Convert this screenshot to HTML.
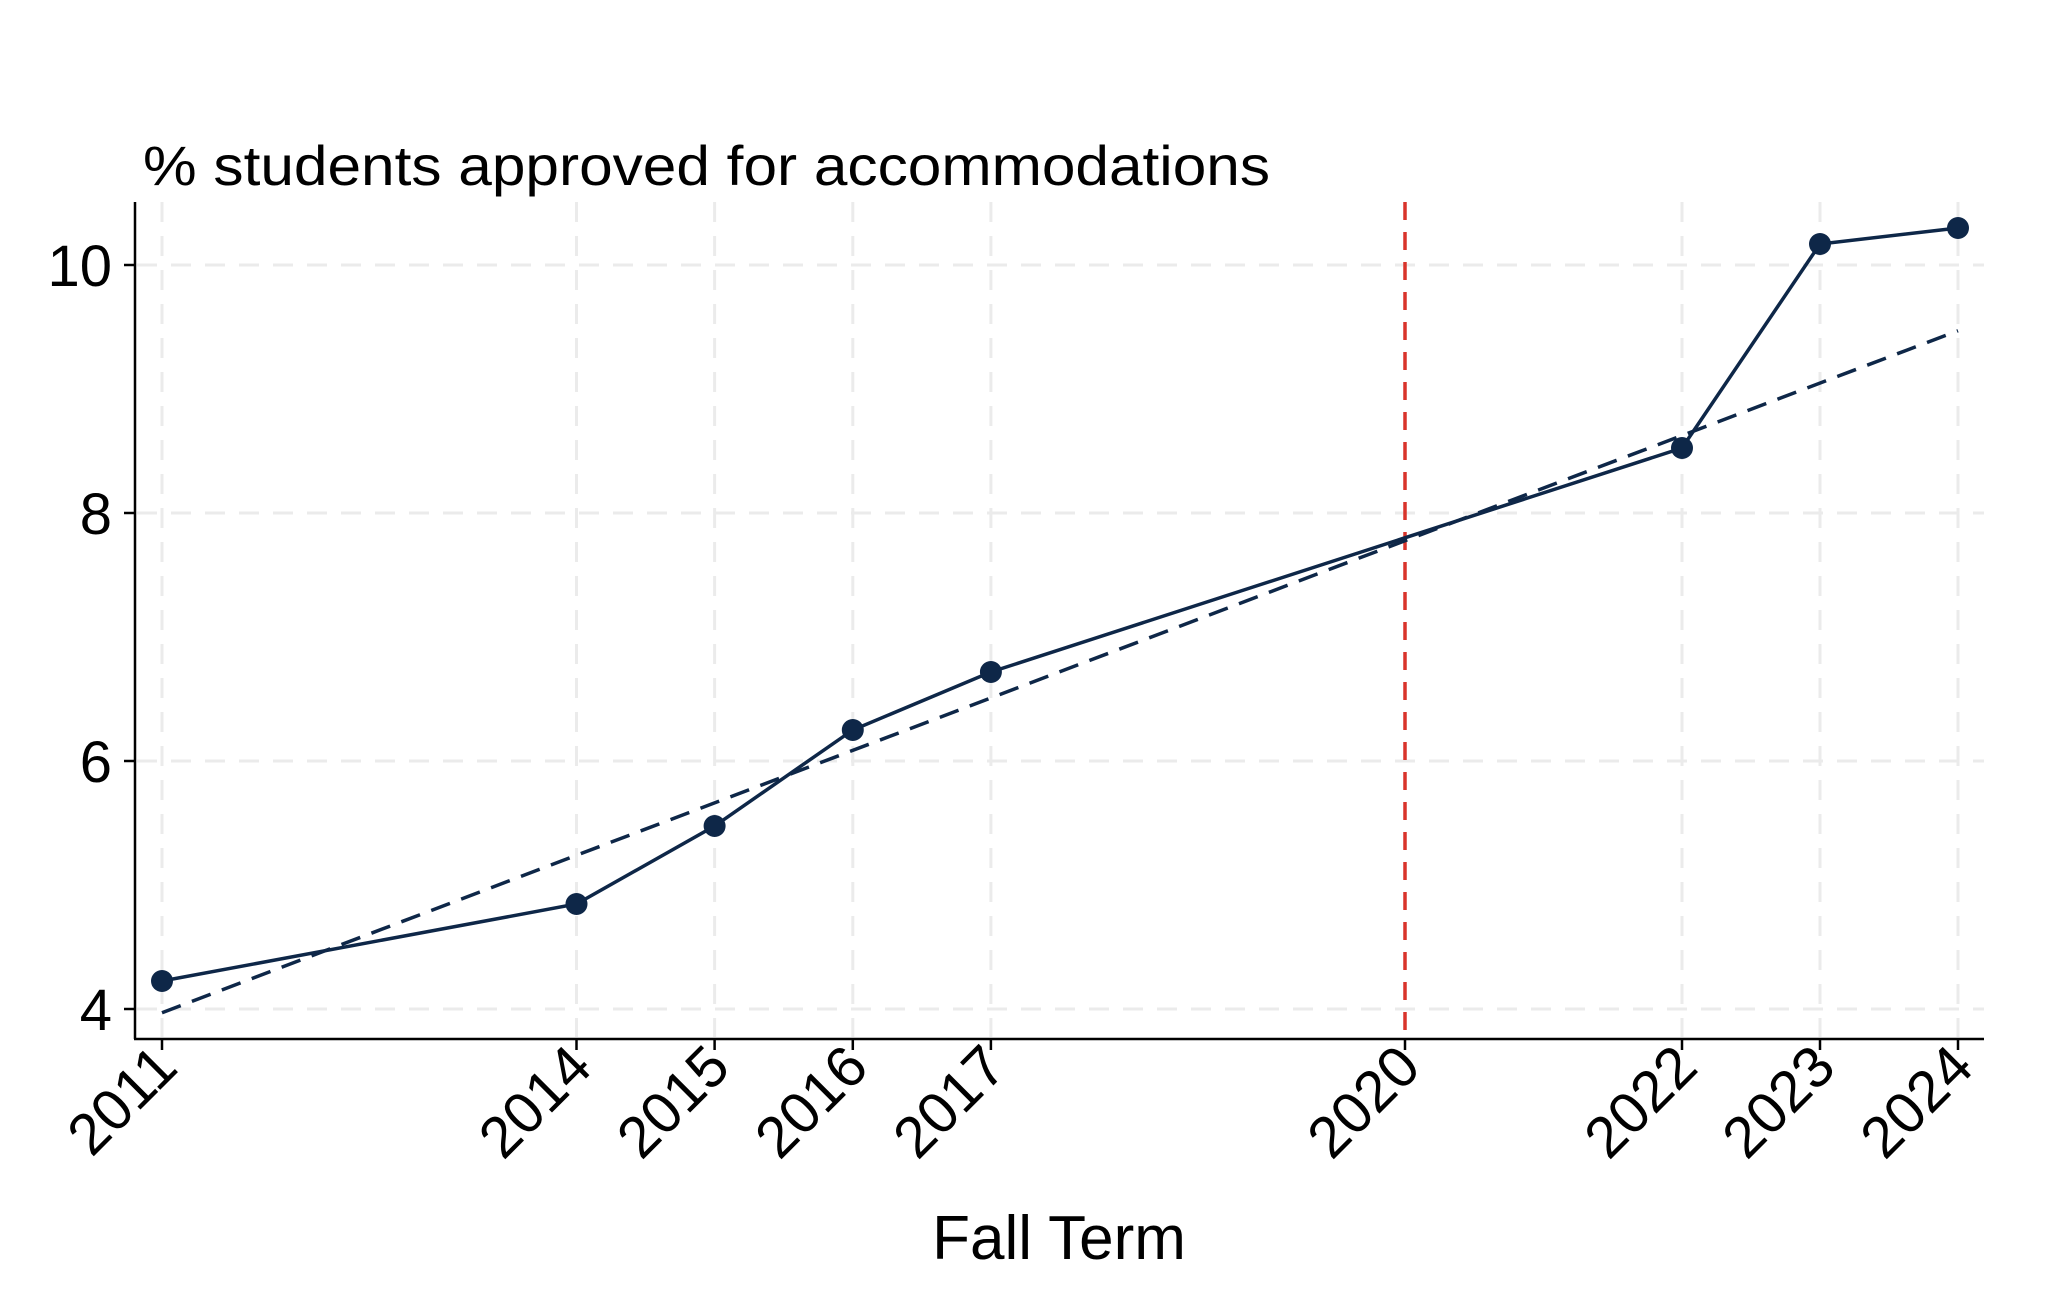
<!DOCTYPE html>
<html><head><style>body{margin:0;background:#fff}svg{display:block}</style></head><body>
<svg width="2047" height="1297" viewBox="0 0 2047 1297" xmlns="http://www.w3.org/2000/svg" font-family="Liberation Sans, Arial, sans-serif">
<g stroke="#ebebeb" stroke-width="3" stroke-dasharray="20,14">
<line x1="137" x2="1984" y1="265" y2="265"/><line x1="137" x2="1984" y1="513" y2="513"/><line x1="137" x2="1984" y1="761" y2="761"/><line x1="137" x2="1984" y1="1009" y2="1009"/>
<line x1="162" x2="162" y1="202" y2="1037"/><line x1="576.5" x2="576.5" y1="202" y2="1037"/><line x1="714.6" x2="714.6" y1="202" y2="1037"/><line x1="852.8" x2="852.8" y1="202" y2="1037"/><line x1="990.9" x2="990.9" y1="202" y2="1037"/><line x1="1682" x2="1682" y1="202" y2="1037"/><line x1="1820" x2="1820" y1="202" y2="1037"/><line x1="1958" x2="1958" y1="202" y2="1037"/>
</g>
<line x1="1405" x2="1405" y1="202" y2="1039" stroke="#d9342b" stroke-width="3.5" stroke-dasharray="18,12"/>
<line x1="162" y1="1012.7" x2="1958" y2="330.7" stroke="#0e2748" stroke-width="3.5" stroke-dasharray="20,12"/>
<polyline fill="none" stroke="#0e2748" stroke-width="3.5" points="162,981 576.5,904 714.6,826 852.8,730 990.9,672 1682,448 1820,244 1958,228"/>
<g fill="#0e2748"><circle cx="162" cy="981" r="11"/><circle cx="576.5" cy="904" r="11"/><circle cx="714.6" cy="826" r="11"/><circle cx="852.8" cy="730" r="11"/><circle cx="990.9" cy="672" r="11"/><circle cx="1682" cy="448" r="11"/><circle cx="1820" cy="244" r="11"/><circle cx="1958" cy="228" r="11"/></g>
<g stroke="#000" stroke-width="2.5">
<line x1="135" y1="202" x2="135" y2="1039"/><line x1="134" y1="1039" x2="1984" y2="1039"/>
<line x1="124" x2="135" y1="265" y2="265"/><line x1="124" x2="135" y1="513" y2="513"/><line x1="124" x2="135" y1="761" y2="761"/><line x1="124" x2="135" y1="1009" y2="1009"/>
<line x1="162" x2="162" y1="1039" y2="1050"/><line x1="576.5" x2="576.5" y1="1039" y2="1050"/><line x1="714.6" x2="714.6" y1="1039" y2="1050"/><line x1="852.8" x2="852.8" y1="1039" y2="1050"/><line x1="990.9" x2="990.9" y1="1039" y2="1050"/><line x1="1405" x2="1405" y1="1039" y2="1050"/><line x1="1682" x2="1682" y1="1039" y2="1050"/><line x1="1820" x2="1820" y1="1039" y2="1050"/><line x1="1958" x2="1958" y1="1039" y2="1050"/>
</g>
<g font-size="58" text-anchor="end" fill="#000">
<text x="112" y="286">10</text><text x="112" y="534">8</text><text x="112" y="782">6</text><text x="112" y="1030">4</text>
</g>
<g font-size="58" text-anchor="end" fill="#000">
<text transform="translate(180,1070) rotate(-45)">2011</text>
<text transform="translate(594.5,1070) rotate(-45)">2014</text>
<text transform="translate(732.6,1070) rotate(-45)">2015</text>
<text transform="translate(870.8,1070) rotate(-45)">2016</text>
<text transform="translate(1008.9,1070) rotate(-45)">2017</text>
<text transform="translate(1423,1070) rotate(-45)">2020</text>
<text transform="translate(1700,1070) rotate(-45)">2022</text>
<text transform="translate(1838,1070) rotate(-45)">2023</text>
<text transform="translate(1976,1070) rotate(-45)">2024</text>
</g>
<text x="143" y="185" font-size="56" textLength="1127" lengthAdjust="spacingAndGlyphs">% students approved for accommodations</text>
<text x="1059" y="1259" font-size="62" text-anchor="middle">Fall Term</text>
</svg>
</body></html>
